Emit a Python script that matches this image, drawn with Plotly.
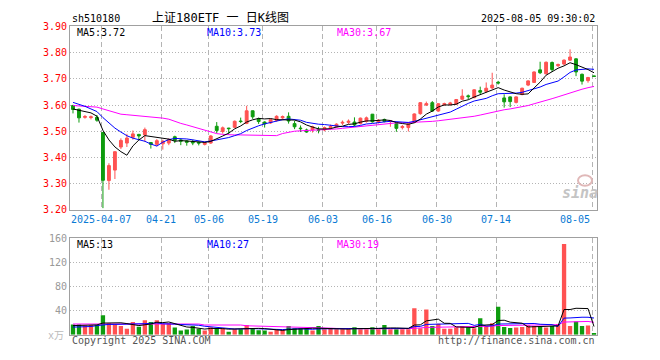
import plotly.graph_objects as go

# ---------------- data ----------------
dates = ["2025-03-28", "2025-03-31", "2025-04-01", "2025-04-02", "2025-04-03",
         "2025-04-07", "2025-04-08", "2025-04-09", "2025-04-10", "2025-04-11",
         "2025-04-14", "2025-04-15", "2025-04-16", "2025-04-17", "2025-04-18",
         "2025-04-21", "2025-04-22", "2025-04-23", "2025-04-24", "2025-04-25",
         "2025-04-28", "2025-04-29", "2025-04-30", "2025-05-06", "2025-05-07",
         "2025-05-08", "2025-05-09", "2025-05-12", "2025-05-13", "2025-05-14",
         "2025-05-15", "2025-05-16", "2025-05-19", "2025-05-20", "2025-05-21",
         "2025-05-22", "2025-05-23", "2025-05-26", "2025-05-27", "2025-05-28",
         "2025-05-29", "2025-05-30", "2025-06-03", "2025-06-04", "2025-06-05",
         "2025-06-06", "2025-06-09", "2025-06-10", "2025-06-11", "2025-06-12",
         "2025-06-13", "2025-06-16", "2025-06-17", "2025-06-18", "2025-06-19",
         "2025-06-20", "2025-06-23", "2025-06-24", "2025-06-25", "2025-06-26",
         "2025-06-27", "2025-06-30", "2025-07-01", "2025-07-02", "2025-07-03",
         "2025-07-04", "2025-07-07", "2025-07-08", "2025-07-09", "2025-07-10",
         "2025-07-11", "2025-07-14", "2025-07-15", "2025-07-16", "2025-07-17",
         "2025-07-18", "2025-07-21", "2025-07-22", "2025-07-23", "2025-07-24",
         "2025-07-25", "2025-07-28", "2025-07-29", "2025-07-30", "2025-07-31",
         "2025-08-01", "2025-08-04", "2025-08-05"]

open_ = [3.598, 3.584, 3.553, 3.552, 3.553, 3.495, 3.312, 3.352, 3.440, 3.455,
         3.477, 3.488, 3.486, 3.457, 3.450, 3.452, 3.455, 3.479, 3.467, 3.463,
         3.460, 3.458, 3.450, 3.455, 3.519, 3.499, 3.512, 3.515, 3.539, 3.530,
         3.578, 3.548, 3.535, 3.532, 3.541, 3.551, 3.557, 3.529, 3.512, 3.505,
         3.505, 3.506, 3.505, 3.514, 3.517, 3.531, 3.534, 3.535, 3.530, 3.538,
         3.565, 3.535, 3.545, 3.537, 3.529, 3.514, 3.514, 3.534, 3.567, 3.600,
         3.609, 3.577, 3.601, 3.602, 3.603, 3.622, 3.635, 3.628, 3.655, 3.652,
         3.665, 3.687, 3.627, 3.631, 3.610, 3.640, 3.676, 3.686, 3.734, 3.719,
         3.762, 3.750, 3.756, 3.771, 3.776, 3.717, 3.693, 3.711]
high = [3.601, 3.586, 3.562, 3.560, 3.562, 3.497, 3.378, 3.424, 3.473, 3.490,
        3.503, 3.490, 3.514, 3.459, 3.470, 3.468, 3.473, 3.483, 3.472, 3.466,
        3.468, 3.460, 3.460, 3.485, 3.535, 3.518, 3.513, 3.541, 3.552, 3.597,
        3.579, 3.552, 3.538, 3.548, 3.561, 3.560, 3.572, 3.540, 3.522, 3.510,
        3.521, 3.517, 3.518, 3.525, 3.530, 3.541, 3.545, 3.553, 3.552, 3.556,
        3.566, 3.546, 3.548, 3.543, 3.531, 3.524, 3.531, 3.568, 3.611, 3.613,
        3.615, 3.607, 3.609, 3.612, 3.623, 3.660, 3.640, 3.660, 3.670, 3.686,
        3.723, 3.692, 3.641, 3.633, 3.633, 3.666, 3.694, 3.728, 3.765, 3.766,
        3.766, 3.758, 3.774, 3.812, 3.778, 3.720, 3.707, 3.711]
low = [3.568, 3.533, 3.548, 3.545, 3.536, 3.207, 3.277, 3.318, 3.432, 3.440,
       3.468, 3.466, 3.460, 3.434, 3.443, 3.430, 3.447, 3.455, 3.447, 3.445,
       3.447, 3.446, 3.446, 3.452, 3.493, 3.491, 3.488, 3.512, 3.531, 3.527,
       3.547, 3.528, 3.514, 3.528, 3.537, 3.547, 3.529, 3.508, 3.497, 3.494,
       3.495, 3.492, 3.500, 3.508, 3.514, 3.524, 3.528, 3.519, 3.526, 3.533,
       3.533, 3.530, 3.534, 3.517, 3.498, 3.507, 3.499, 3.531, 3.563, 3.596,
       3.574, 3.574, 3.597, 3.598, 3.600, 3.619, 3.622, 3.626, 3.640, 3.647,
       3.661, 3.678, 3.590, 3.592, 3.606, 3.637, 3.672, 3.684, 3.718, 3.717,
       3.726, 3.745, 3.752, 3.768, 3.710, 3.678, 3.685, 3.709]
close = [3.583, 3.551, 3.556, 3.555, 3.542, 3.313, 3.369, 3.422, 3.465, 3.474,
         3.490, 3.482, 3.506, 3.450, 3.464, 3.462, 3.468, 3.465, 3.462, 3.458,
         3.456, 3.455, 3.456, 3.482, 3.503, 3.513, 3.510, 3.538, 3.537, 3.578,
         3.555, 3.537, 3.528, 3.544, 3.557, 3.556, 3.539, 3.517, 3.510, 3.497,
         3.517, 3.504, 3.514, 3.518, 3.527, 3.534, 3.538, 3.524, 3.550, 3.551,
         3.536, 3.542, 3.537, 3.539, 3.511, 3.518, 3.528, 3.566, 3.609, 3.605,
         3.577, 3.605, 3.605, 3.608, 3.621, 3.634, 3.632, 3.658, 3.649, 3.664,
         3.676, 3.684, 3.612, 3.613, 3.631, 3.664, 3.692, 3.726, 3.723, 3.763,
         3.735, 3.754, 3.771, 3.783, 3.726, 3.691, 3.705, 3.709]

# volume in 万手
volume = [17, 17, 15, 16, 16, 32, 18.7, 17, 14.4, 9.6,
          20.8, 13.3, 24, 20.8, 24, 17.6, 18.7, 11.7, 6.9, 8.5,
          14.4, 9.6, 6.9, 12.3, 10.7, 10.7, 4.8, 9, 9, 16,
          10.7, 7.5, 6.9, 4.8, 8, 8, 14.4, 10.7, 10.7, 10.7,
          6.9, 14.4, 9, 10, 9, 9, 9, 12.3, 9, 9,
          12.3, 9, 16, 9, 9, 9, 9, 43.7, 10.7, 41.6,
          14.4, 18.1, 9.6, 9.6, 12.3, 14.4, 12.3, 10.7, 27.2, 14.4,
          18.7, 46.4, 12.8, 11.2, 11.7, 12.8, 15.5, 14.4, 14.4, 11.7,
          14.4, 17.6, 150, 14.4, 22, 14.4, 15, 1.6]

# moving-average values at the start of the window (history lies before it)
ma5_head = [3.585, 3.580, 3.575, 3.570]
ma10_head = [3.610, 3.603, 3.595, 3.585, 3.575, 3.552, 3.530, 3.512, 3.497]
ma30_head = [3.598, 3.597, 3.596, 3.595, 3.592, 3.585, 3.578, 3.570, 3.565, 3.563,
             3.561, 3.559, 3.557, 3.555, 3.553, 3.550, 3.546, 3.537, 3.530, 3.524,
             3.517, 3.510, 3.503, 3.496, 3.491, 3.488, 3.486, 3.486, 3.486]
vma5_head = [15, 15, 15, 15.5]
vma10_head = [12.5, 12.5, 13, 13.5, 15, 16.5, 17, 17, 17]
vma30_head = [17.6, 17.6, 17.6, 18.7, 18.7, 18.7, 18.7, 18.7, 18.7, 18.7,
              18.7, 18.7, 18.7, 18.7, 18.7, 18.7, 18.7, 18.7, 18.7, 17.6,
              17.6, 17.6, 16, 16, 16, 16, 16, 16, 16]

price_ticks = [3.20, 3.30, 3.40, 3.50, 3.60, 3.70, 3.80, 3.90]
vol_ticks = [40, 80, 120, 160]
label_dates = ["2025-04-07", "2025-04-21", "2025-05-06", "2025-05-19", "2025-06-03",
               "2025-06-16", "2025-06-30", "2025-07-14", "2025-08-05"]
ma_now = {"MA5": "3.72", "MA10": "3.73", "MA30": "3.67"}
vma_now = {"MA5": "13", "MA10": "27", "MA30": "19"}
code = "sh510180"
title = "上证180ETF 一 日K线图"
stamp = "2025-08-05 09:30:02"

# ---------------- derived ----------------
def rolling(vals, n, head):
    out = []
    for i in range(len(vals)):
        if i < n - 1:
            out.append(head[i])
        else:
            out.append(sum(vals[i - n + 1:i + 1]) / n)
    return out

idx = list(range(len(dates)))
ma5 = rolling(close, 5, ma5_head)
ma10 = rolling(close, 10, ma10_head)
ma30 = rolling(close, 30, ma30_head)
vma5 = rolling(volume, 5, vma5_head)
vma10 = rolling(volume, 10, vma10_head)
vma30 = rolling(volume, 30, vma30_head)

RED = "#ff5252"
GREEN = "#0e9c0e"
BLUE = "#0000ff"
MAG = "#ff00ff"
GRID = "#b4b4b4"
FONT = "DejaVu Sans Mono, Noto Sans CJK SC"
vcolors = [RED if c >= o else GREEN for o, c in zip(open_, close)]

W, H = 660, 360
L, R = 70, 597
PT, PB = 21, 211
VT, VB = 240, 340
def py(p):
    return 1 - p / H

grid_pos = [dates.index(d) - 0.3 for d in label_dates]

fig = go.Figure()
fig.add_trace(go.Candlestick(
    x=idx, open=open_, high=high, low=low, close=close,
    increasing=dict(line=dict(color=RED, width=1), fillcolor=RED),
    decreasing=dict(line=dict(color=GREEN, width=1), fillcolor=GREEN),
    whiskerwidth=0, showlegend=False, hoverinfo="skip", xaxis="x", yaxis="y"))
for vals, col in [(ma30, MAG), (ma10, BLUE), (ma5, "#000000")]:
    fig.add_trace(go.Scatter(x=idx, y=vals, mode="lines", line=dict(color=col, width=1),
                             showlegend=False, hoverinfo="skip", xaxis="x", yaxis="y"))
fig.add_trace(go.Bar(x=idx, y=volume, marker=dict(color=vcolors, line=dict(width=0)),
                     width=0.72, showlegend=False, hoverinfo="skip", xaxis="x2", yaxis="y2"))
for vals, col in [(vma30, MAG), (vma10, BLUE), (vma5, "#000000")]:
    fig.add_trace(go.Scatter(x=idx, y=vals, mode="lines", line=dict(color=col, width=1),
                             showlegend=False, hoverinfo="skip", xaxis="x2", yaxis="y2"))

xcommon = dict(domain=[L / W, R / W], range=[-0.5, len(dates) - 0.5], tickmode="array",
               tickvals=grid_pos, showticklabels=False, ticks="", showgrid=True,
               gridcolor=GRID, griddash="5px,3px", gridwidth=1, zeroline=False,
               showline=True, mirror=True, linecolor="#a0a0a0", linewidth=1, fixedrange=True)
fig.update_layout(
    width=W, height=H, margin=dict(l=0, r=0, t=0, b=0),
    paper_bgcolor="white", plot_bgcolor="white", hovermode=False,
    boxgap=0.32, bargap=0.28,
    font=dict(family=FONT, size=10, color="#000"),
    xaxis=dict(**xcommon, anchor="y", rangeslider=dict(visible=False)),
    xaxis2=dict(**xcommon, anchor="y2", matches="x"),
    yaxis=dict(domain=[py(PB), py(PT)], range=[price_ticks[0], price_ticks[-1]],
               tickmode="array", tickvals=price_ticks,
               ticktext=["%.2f" % v for v in price_ticks],
               tickfont=dict(color="#ff0000", size=10, family=FONT), ticks="",
               showgrid=True, gridcolor=GRID, griddash="1px,2px", zeroline=False,
               showline=True, mirror=True, linecolor="#a0a0a0", anchor="x", fixedrange=True),
    yaxis2=dict(domain=[py(VB), py(VT)], range=[0, vol_ticks[-1]],
                tickmode="array", tickvals=vol_ticks, ticktext=[str(v) for v in vol_ticks],
                tickfont=dict(color="#999999", size=10, family=FONT), ticks="",
                showgrid=True, gridcolor=GRID, griddash="1px,2px", zeroline=False,
                showline=True, mirror=True, linecolor="#a0a0a0", anchor="x2", fixedrange=True),
)

ann = []
def text(x, y, s, color="#000", size=10, xanchor="left", **kw):
    ann.append(dict(x=x / W, y=py(y), xref="paper", yref="paper", text=s, showarrow=False,
                    xanchor=xanchor, yanchor="middle",
                    font=dict(family=FONT, size=size, color=color), **kw))

text(L, 13, code)
text(220, 12, title, size=12, xanchor="center")
text(R, 13, stamp, xanchor="right")
for (k, v), x, col in zip(ma_now.items(), [75, 205, 335], ["#000", BLUE, MAG]):
    text(x, 27, f"{k}:{v}", color=col)
for (k, v), x, col in zip(vma_now.items(), [75, 205, 335], ["#000", BLUE, MAG]):
    text(x, 247, f"{k}:{v}", color=col)

# date labels along the price axis
for j, d in enumerate(label_dates):
    lab = d if j == 0 else d[5:]
    last = j == len(label_dates) - 1
    ann.append(dict(x=grid_pos[j], y=py(220.5), xref="x", yref="paper", text=lab,
                    showarrow=False, xanchor="right" if last else "center", yanchor="middle",
                    font=dict(family=FONT, size=10, color="#0a7ad4")))

text(66, 341, "x万", color="#bbbbbb", xanchor="right")
text(L, 346, "Copyright 2025 SINA.COM", color="#555555")
text(R, 346, "http://finance.sina.com.cn", color="#555555", xanchor="right")
text(580, 193, "<b><i>sina</i></b>", color="#c4c4c4", size=15, xanchor="center")
fig.update_layout(annotations=ann)
fig.add_shape(type="circle", xref="paper", yref="paper",
              x0=578 / W, x1=592 / W, y0=py(186), y1=py(175),
              line=dict(color="#e0b8b8", width=2))

fig.write_html("out.html")
